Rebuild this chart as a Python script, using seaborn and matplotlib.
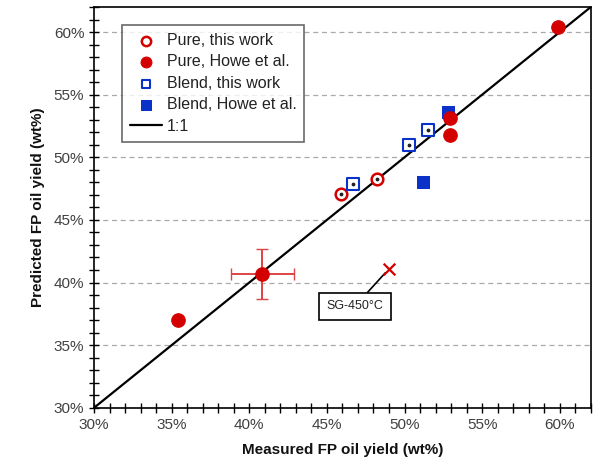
import pandas as pd
import matplotlib.pyplot as plt
import seaborn as sns
from matplotlib.ticker import MultipleLocator, PercentFormatter

sns.set_theme(style="white")
plt.rcParams['font.family'] = ['Liberation Sans', 'DejaVu Sans']

# measured vs predicted FP oil yield (wt%)
pure_this_x = [45.9, 48.2]
pure_this_y = [47.1, 48.3]
pure_howe_x = [35.4, 52.9, 52.9, 59.9]
pure_howe_y = [37.0, 53.1, 51.8, 60.4]
blend_this_x = [46.7, 50.3, 51.5]
blend_this_y = [47.9, 51.0, 52.2]
blend_howe_x = [52.8, 51.2]
blend_howe_y = [53.6, 48.0]
err_x, err_y = 40.85, 40.7
err_xerr, err_yerr = 2.0, 2.0
sg_x, sg_y = 49.0, 41.1
one_to_one = [30, 62]

RED = "#d40000"
BLUE = "#0a32c8"

fig = plt.figure(figsize=(5.95, 4.65), dpi=100)
ax = fig.add_axes([0.158, 0.123, 0.835, 0.862])

sns.lineplot(x=one_to_one, y=one_to_one, color="black", lw=1.6, ax=ax,
             label="1:1", zorder=2)

sns.scatterplot(x=pure_this_x, y=pure_this_y, marker="o", s=70,
                facecolor="white", edgecolor=RED, linewidth=1.8, ax=ax,
                label="Pure, this work", zorder=4)
sns.scatterplot(x=pure_howe_x, y=pure_howe_y, marker="o", s=95,
                color=RED, edgecolor=RED, ax=ax,
                label="Pure, Howe et al.", zorder=4)
sns.scatterplot(x=blend_this_x, y=blend_this_y, marker="s", s=65,
                facecolor="white", edgecolor=BLUE, linewidth=1.5, ax=ax,
                label="Blend, this work", zorder=4)
sns.scatterplot(x=blend_howe_x, y=blend_howe_y, marker="s", s=85,
                color=BLUE, edgecolor=BLUE, ax=ax,
                label="Blend, Howe et al.", zorder=3)
# tiny centre dots on the open markers
ax.scatter(pure_this_x + blend_this_x, pure_this_y + blend_this_y,
           s=3, color="#222222", zorder=5)

ax.errorbar(err_x, err_y, xerr=err_xerr, yerr=err_yerr, fmt="o", ms=9.5,
            color=RED, ecolor="#dd4444", elinewidth=1.4, capsize=4, zorder=4)

ax.scatter([sg_x], [sg_y], marker="x", s=70, color=RED, linewidths=1.6, zorder=4)
ax.annotate("SG-450°C", xy=(sg_x, sg_y), xytext=(46.8, 38.1),
            ha="center", va="center", fontsize=9, color="#222222",
            bbox=dict(boxstyle="square,pad=0.6", fc="white", ec="black", lw=1.2),
            arrowprops=dict(arrowstyle="-", color="black", lw=1.2,
                            shrinkA=0, shrinkB=4))

ax.set_xlim(30, 62)
ax.set_ylim(30, 62)
ax.xaxis.set_major_locator(MultipleLocator(5))
ax.yaxis.set_major_locator(MultipleLocator(5))
ax.xaxis.set_minor_locator(MultipleLocator(1))
ax.yaxis.set_minor_locator(MultipleLocator(1))
ax.xaxis.set_major_formatter(PercentFormatter(decimals=0))
ax.yaxis.set_major_formatter(PercentFormatter(decimals=0))
ax.tick_params(which="both", direction="inout", length=7, width=1,
               color="black", labelsize=11, labelcolor="#404040",
               bottom=True, left=True)
ax.yaxis.grid(True, which="major", linestyle=(0, (4, 3)), color="#aaaaaa", lw=0.9)
ax.set_axisbelow(True)
for s in ax.spines.values():
    s.set_color("black")
    s.set_linewidth(1.2)

ax.set_xlabel("Measured FP oil yield (wt%)", fontsize=11, fontweight="bold",
              color="#111111", labelpad=8)
ax.set_ylabel("Predicted FP oil yield (wt%)", fontsize=11, fontweight="bold",
              color="#111111", labelpad=6)

handles, labels = ax.get_legend_handles_labels()
order = [labels.index(l) for l in ["Pure, this work", "Pure, Howe et al.",
                                   "Blend, this work", "Blend, Howe et al.", "1:1"]]
leg = ax.legend([handles[i] for i in order], [labels[i] for i in order],
                loc="upper left", bbox_to_anchor=(0.056, 0.955), fontsize=11.5,
                frameon=True, fancybox=False, edgecolor="#444444",
                handlelength=2.0, handletextpad=0.3, markerscale=0.8,
                labelcolor="#222222", borderpad=0.5, borderaxespad=0,
                labelspacing=0.4)
leg.get_frame().set_linewidth(1.2)

fig.savefig("out.png", dpi=100)
